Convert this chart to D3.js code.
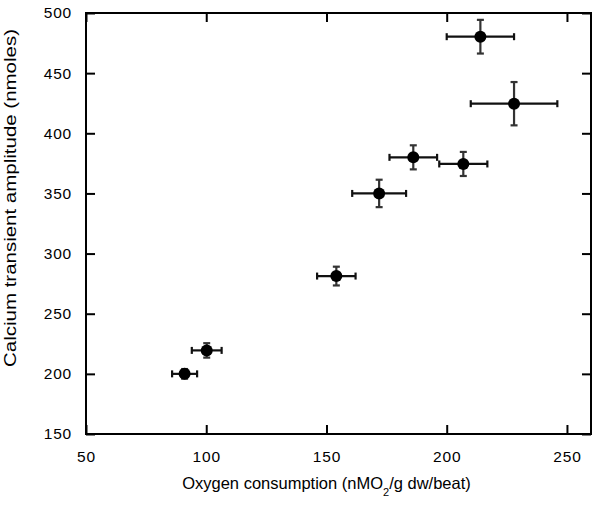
<!DOCTYPE html>
<html>
<head>
<meta charset="utf-8">
<script src="https://cdn.jsdelivr.net/npm/d3@7"></script>
<style>
  body { margin: 0; background: #fff; }
  svg { display: block; }
  text { font-family: Arial, "Liberation Sans", sans-serif; fill: #000; }
</style>
</head>
<body>
<div id="chart"></div>
<script>
// chart data
var oxygen = [91, 100.2, 154.1, 171.9, 186.1, 206.9, 214, 228];
var oxygenErr = [5.2, 6.2, 8, 11.2, 9.9, 10, 14, 18];
var calcium = [200, 219.5, 281.3, 350, 380, 374.5, 480.3, 424.6];
var calciumErr = [4, 6, 7.8, 11.4, 10, 10, 14, 18];
var xTicks = [50, 100, 150, 200, 250];
var yTicks = [150, 200, 250, 300, 350, 400, 450, 500];

var svgWidth = 600;
var svgHeight = 509;

var margin = { top: 13, right: 9, bottom: 75, left: 86 };
var width = svgWidth - margin.left - margin.right;
var height = svgHeight - margin.top - margin.bottom;

var svg = d3.select("#chart")
  .append("svg")
  .attr("width", svgWidth)
  .attr("height", svgHeight);

var chartGroup = svg.append("g")
  .attr("transform", `translate(${margin.left}, ${margin.top})`);

var xScale = d3.scaleLinear().domain([50, 260]).range([0, width]);
var yScale = d3.scaleLinear().domain([150, 500]).range([height, 0]);

// frame
chartGroup.append("rect")
  .attr("width", width)
  .attr("height", height)
  .attr("fill", "none")
  .attr("stroke", "#000")
  .attr("stroke-width", 2);

var tickLen = 9;

// bottom axis, ticks pointing inward
var bottomAxis = chartGroup.append("g")
  .attr("transform", `translate(0, ${height})`)
  .call(d3.axisBottom(xScale).tickValues(xTicks).tickSizeInner(-tickLen).tickSizeOuter(0).tickPadding(17));
bottomAxis.select(".domain").remove();

// left axis
var leftAxis = chartGroup.append("g")
  .call(d3.axisLeft(yScale).tickValues(yTicks).tickSizeInner(-tickLen).tickSizeOuter(0).tickPadding(14));
leftAxis.select(".domain").remove();

// mirrored ticks on top and right
var topAxis = chartGroup.append("g")
  .call(d3.axisTop(xScale).tickValues(xTicks).tickSizeInner(-tickLen).tickSizeOuter(0).tickFormat(""));
topAxis.select(".domain").remove();

var rightAxis = chartGroup.append("g")
  .attr("transform", `translate(${width}, 0)`)
  .call(d3.axisRight(yScale).tickValues(yTicks).tickSizeInner(-tickLen).tickSizeOuter(0).tickFormat(""));
rightAxis.select(".domain").remove();

chartGroup.selectAll(".tick line")
  .attr("stroke", "#000")
  .attr("stroke-width", 2);

chartGroup.selectAll(".tick text")
  .style("font-size", "15.5px")
  .style("letter-spacing", "0.8px");

// error bars
var points = oxygen.map(function(d, i) {
  return { x: d, xe: oxygenErr[i], y: calcium[i], ye: calciumErr[i] };
});

var capSize = 3.5;
var errGroup = chartGroup.selectAll(".err")
  .data(points)
  .enter()
  .append("g")
  .attr("class", "err");

// horizontal
errGroup.append("line")
  .attr("x1", d => xScale(d.x - d.xe))
  .attr("x2", d => xScale(d.x + d.xe))
  .attr("y1", d => yScale(d.y))
  .attr("y2", d => yScale(d.y))
  .attr("stroke", "#111").attr("stroke-width", 2.2);
errGroup.append("line")
  .attr("x1", d => xScale(d.x - d.xe))
  .attr("x2", d => xScale(d.x - d.xe))
  .attr("y1", d => yScale(d.y) - capSize)
  .attr("y2", d => yScale(d.y) + capSize)
  .attr("stroke", "#111").attr("stroke-width", 2.2);
errGroup.append("line")
  .attr("x1", d => xScale(d.x + d.xe))
  .attr("x2", d => xScale(d.x + d.xe))
  .attr("y1", d => yScale(d.y) - capSize)
  .attr("y2", d => yScale(d.y) + capSize)
  .attr("stroke", "#111").attr("stroke-width", 2.2);

// vertical
errGroup.append("line")
  .attr("x1", d => xScale(d.x))
  .attr("x2", d => xScale(d.x))
  .attr("y1", d => yScale(d.y - d.ye))
  .attr("y2", d => yScale(d.y + d.ye))
  .attr("stroke", "#333").attr("stroke-width", 2.2);
errGroup.append("line")
  .attr("x1", d => xScale(d.x) - capSize)
  .attr("x2", d => xScale(d.x) + capSize)
  .attr("y1", d => yScale(d.y - d.ye))
  .attr("y2", d => yScale(d.y - d.ye))
  .attr("stroke", "#333").attr("stroke-width", 2.2);
errGroup.append("line")
  .attr("x1", d => xScale(d.x) - capSize)
  .attr("x2", d => xScale(d.x) + capSize)
  .attr("y1", d => yScale(d.y + d.ye))
  .attr("y2", d => yScale(d.y + d.ye))
  .attr("stroke", "#333").attr("stroke-width", 2.2);

// markers
chartGroup.selectAll("circle")
  .data(points)
  .enter()
  .append("circle")
  .attr("cx", d => xScale(d.x))
  .attr("cy", d => yScale(d.y))
  .attr("r", 6)
  .attr("fill", "#000");

// axis labels
var xLabel = svg.append("text")
  .attr("x", margin.left + width / 2 - 12)
  .attr("y", 489)
  .attr("text-anchor", "middle")
  .style("font-size", "16.5px");
xLabel.append("tspan").text("Oxygen consumption (nMO");
xLabel.append("tspan").attr("dy", 7).style("font-size", "11px").text("2");
xLabel.append("tspan").attr("dy", -7).text("/g dw/beat)");

svg.append("text")
  .attr("transform", "translate(16, 198) rotate(-90)")
  .attr("text-anchor", "middle")
  .attr("textLength", 338)
  .attr("lengthAdjust", "spacingAndGlyphs")
  .style("font-size", "16px")
  .text("Calcium transient amplitude (nmoles)");
</script>
</body>
</html>
